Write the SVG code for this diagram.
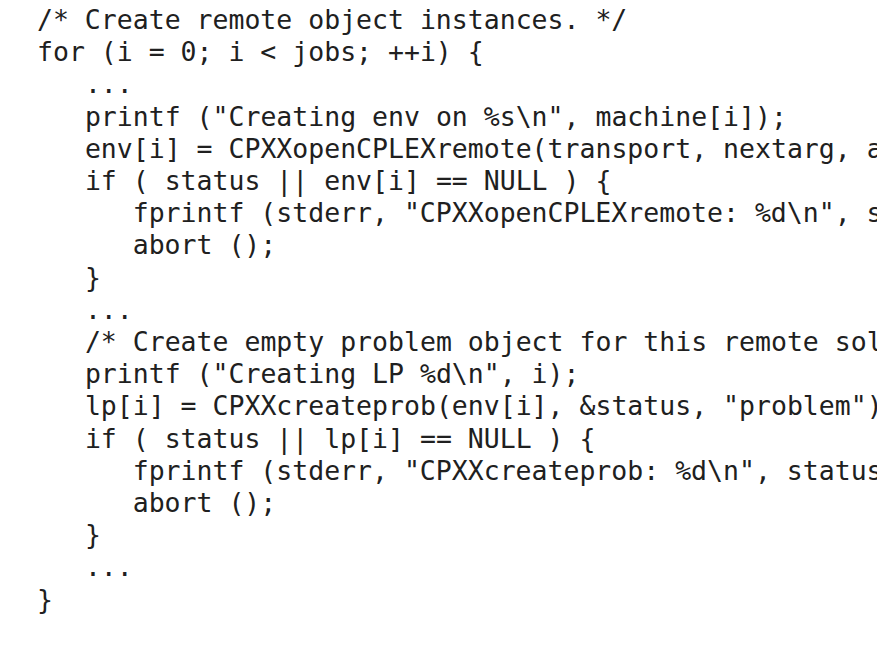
<svg xmlns="http://www.w3.org/2000/svg" width="877" height="647" viewBox="0 0 877 647">
<style>
.code{font-family:"DejaVu Sans Mono","Liberation Mono",monospace;font-size:26.5px;fill:#202020}
</style>
<rect width="877" height="647" fill="#ffffff"/>
<g id="listing" class="code">
<text x="37" y="29">/* Create remote object instances. */</text>
<text x="37" y="61.2">for (i = 0; i &lt; jobs; ++i) {</text>
<text x="84.9" y="93.4">...</text>
<text x="84.9" y="125.6">printf ("Creating env on %s\n", machine[i]);</text>
<text x="84.9" y="157.8">env[i] = CPXXopenCPLEXremote(transport, nextarg, a</text>
<text x="84.9" y="190">if ( status || env[i] == NULL ) {</text>
<text x="132.7" y="222.2">fprintf (stderr, "CPXXopenCPLEXremote: %d\n", s</text>
<text x="132.7" y="254.4">abort ();</text>
<text x="84.9" y="286.6">}</text>
<text x="84.9" y="318.8">...</text>
<text x="84.9" y="351">/* Create empty problem object for this remote sol</text>
<text x="84.9" y="383.2">printf ("Creating LP %d\n", i);</text>
<text x="84.9" y="415.4">lp[i] = CPXXcreateprob(env[i], &amp;status, "problem")</text>
<text x="84.9" y="447.6">if ( status || lp[i] == NULL ) {</text>
<text x="132.7" y="479.8">fprintf (stderr, "CPXXcreateprob: %d\n", status</text>
<text x="132.7" y="512">abort ();</text>
<text x="84.9" y="544.2">}</text>
<text x="84.9" y="576.4">...</text>
<text x="37" y="608.6">}</text>
</g>
</svg>
